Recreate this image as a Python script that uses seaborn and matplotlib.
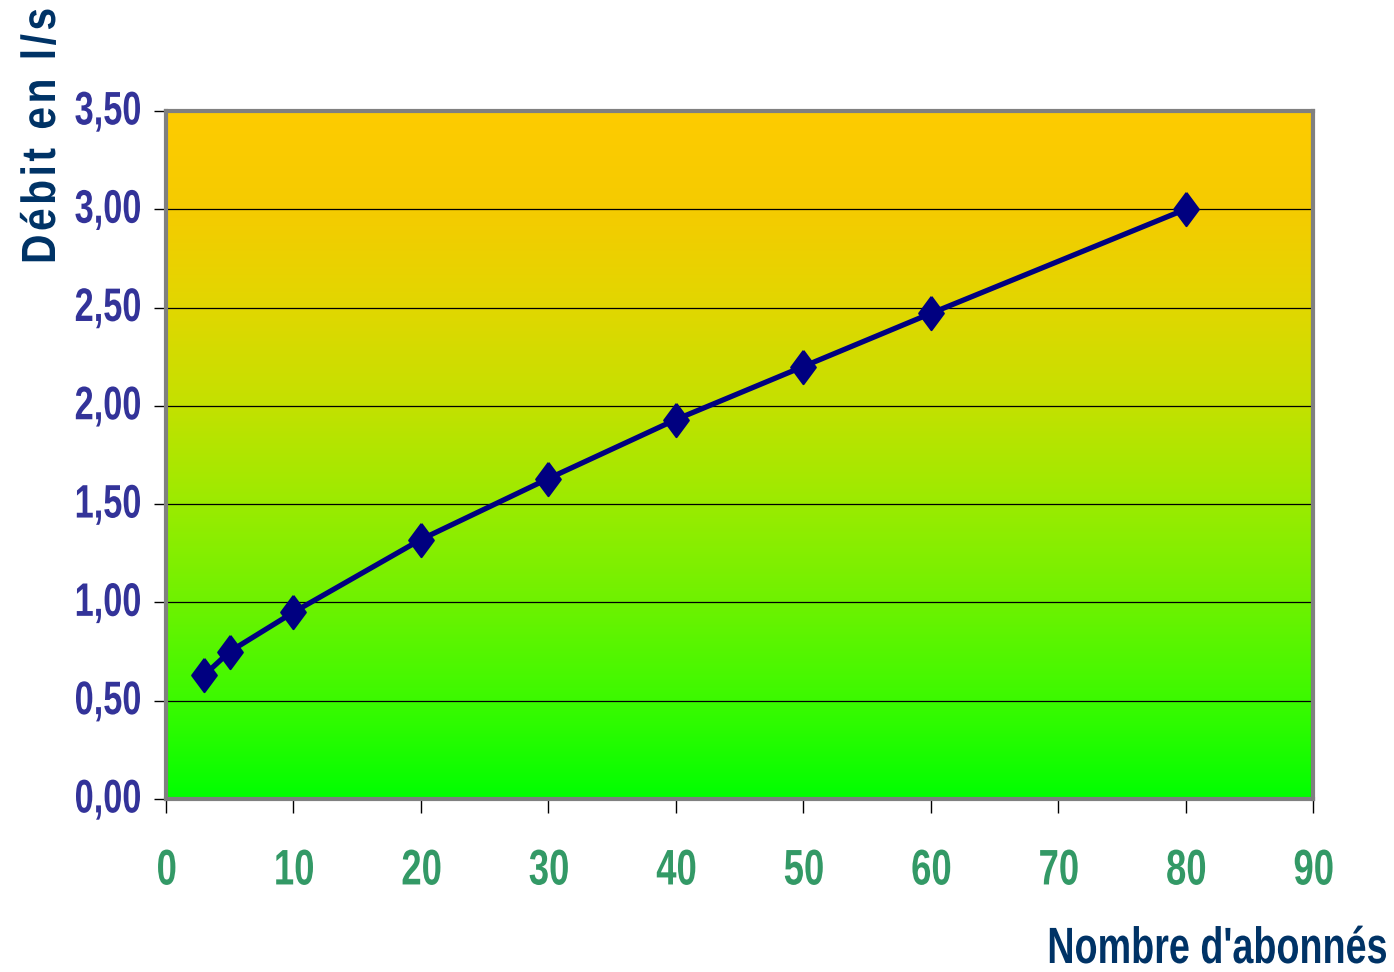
import matplotlib
matplotlib.use("Agg")
import matplotlib.pyplot as plt
import numpy as np
import pandas as pd
import seaborn as sns
from matplotlib import font_manager as fm
from matplotlib.font_manager import FontProperties
from matplotlib.patches import PathPatch
from matplotlib.path import Path
from matplotlib.textpath import TextPath, text_to_path
from matplotlib.transforms import Affine2D, IdentityTransform

# données
abonnes = [3, 5, 10, 20, 30, 40, 50, 60, 80]
debit = [0.63, 0.75, 0.95, 1.32, 1.63, 1.93, 2.20, 2.47, 3.00]
x_ticks = list(range(0, 91, 10))
y_ticks = [0.0, 0.5, 1.0, 1.5, 2.0, 2.5, 3.0, 3.5]

df = pd.DataFrame({"abonnes": abonnes, "debit": debit})

W, H = 1394, 972


def pick_font(cands):
    names = {f.name for f in fm.fontManager.ttflist}
    for c in cands:
        if c in names:
            return c
    return "DejaVu Sans"


narrow_font = pick_font(["Liberation Sans Narrow", "Arial Narrow"])
base_font = pick_font(["Liberation Sans", "Arimo", "Roboto", "DejaVu Sans"])
if narrow_font != "DejaVu Sans":
    cond_font, cond_k = narrow_font, 1.0 / 0.82
else:
    cond_font, cond_k = base_font, 1.0


def draw_text(fig, x, y, s, size, color, family, sx=1.0, spacing=0.0,
              ha="center", va="center", rotation=0):
    """texte en gras dessiné comme un chemin (permet de le resserrer / l'espacer)"""
    prop = FontProperties(family=family, weight="bold", size=size)
    pieces = []
    off = 0.0
    for ch in s:
        if ch.strip():
            p = TextPath((0, 0), ch, size=size, prop=prop)
            pieces.append(Affine2D().translate(off, 0).transform_path(p))
        w, _, _ = text_to_path.get_text_width_height_descent(ch, prop, ismath=False)
        off += w + spacing / sx
    path = Path.make_compound_path(*pieces)
    cap = TextPath((0, 0), "0", size=size, prop=prop).get_extents().ymax
    width = path.get_extents().xmax * sx
    tx = {"left": 0, "center": -width / 2, "right": -width}[ha]
    ty = {"baseline": 0, "center": -cap / 2, "top": -cap}[va]
    tr = Affine2D().scale(sx, 1).translate(tx, ty).rotate_deg(rotation).translate(x, y)
    patch = PathPatch(tr.transform_path(path), facecolor=color, edgecolor="none",
                      transform=IdentityTransform())
    fig.add_artist(patch)


sns.set_style("white")
plt.rcParams["font.family"] = [base_font, "DejaVu Sans"]

fig = plt.figure(figsize=(W / 100, H / 100), dpi=100)
ax = fig.add_axes([166 / W, 1 - 799 / H, (1313 - 166) / W, (799 - 111) / H])

# fond dégradé orange -> vert
stops = np.linspace(0, 1, 8)
reds = [0, 60, 110, 155, 195, 225, 245, 254]
greens = [255, 250, 242, 235, 225, 215, 203, 204]
t = np.linspace(1, 0, 400)
grad = np.stack([np.interp(t, stops, reds), np.interp(t, stops, greens),
                 np.zeros_like(t)], axis=-1)[:, None, :] / 255
ax.imshow(grad, extent=[0, 90, 0, 3.5], aspect="auto", zorder=0, origin="upper")

# losange un peu plus large que le "d" de matplotlib
losange = [(0, 1), (0.74, 0), (0, -1), (-0.74, 0), (0, 1)]
sns.lineplot(data=df, x="abonnes", y="debit", ax=ax, color="#000080",
             linewidth=3.8, marker=losange, markersize=24, markeredgecolor="#000080",
             markeredgewidth=1.5, zorder=3)

ax.set_xlim(0, 90)
ax.set_ylim(0, 3.5)
ax.set_xticks(x_ticks)
ax.set_yticks(y_ticks)
ax.set_xticklabels([])
ax.set_yticklabels([])
ax.set_xlabel("")
ax.set_ylabel("")

ax.yaxis.grid(True, color="black", linewidth=0.9)
ax.xaxis.grid(False)

for s in ax.spines.values():
    s.set_color("#808080")
    s.set_linewidth(3)

ax.tick_params(axis="y", length=9, width=1, color="black", left=True)
ax.tick_params(axis="x", length=10, width=1, color="black", bottom=True)

# étiquettes des graduations
for v in y_ticks:
    px, py = ax.transData.transform((0, v))
    draw_text(fig, px - 26, py + 3, f"{v:.2f}".replace(".", ","), 47, "#333399",
              cond_font, sx=0.73 * cond_k, ha="right", va="center")
for v in x_ticks:
    px, py = ax.transData.transform((v, 0))
    draw_text(fig, px, H - 867, str(v), 50, "#339966",
              cond_font, sx=0.73 * cond_k, ha="center", va="center")

# titres des axes
draw_text(fig, 55, H - 264, "Débit en l/s", 48, "#003366", base_font,
          sx=0.85, spacing=3.5, ha="left", va="baseline", rotation=90)
draw_text(fig, 1386, H - 963, "Nombre d'abonnés", 51, "#003366",
          cond_font, sx=0.74 * cond_k, ha="right", va="baseline")

fig.savefig("out.png", dpi=100)
